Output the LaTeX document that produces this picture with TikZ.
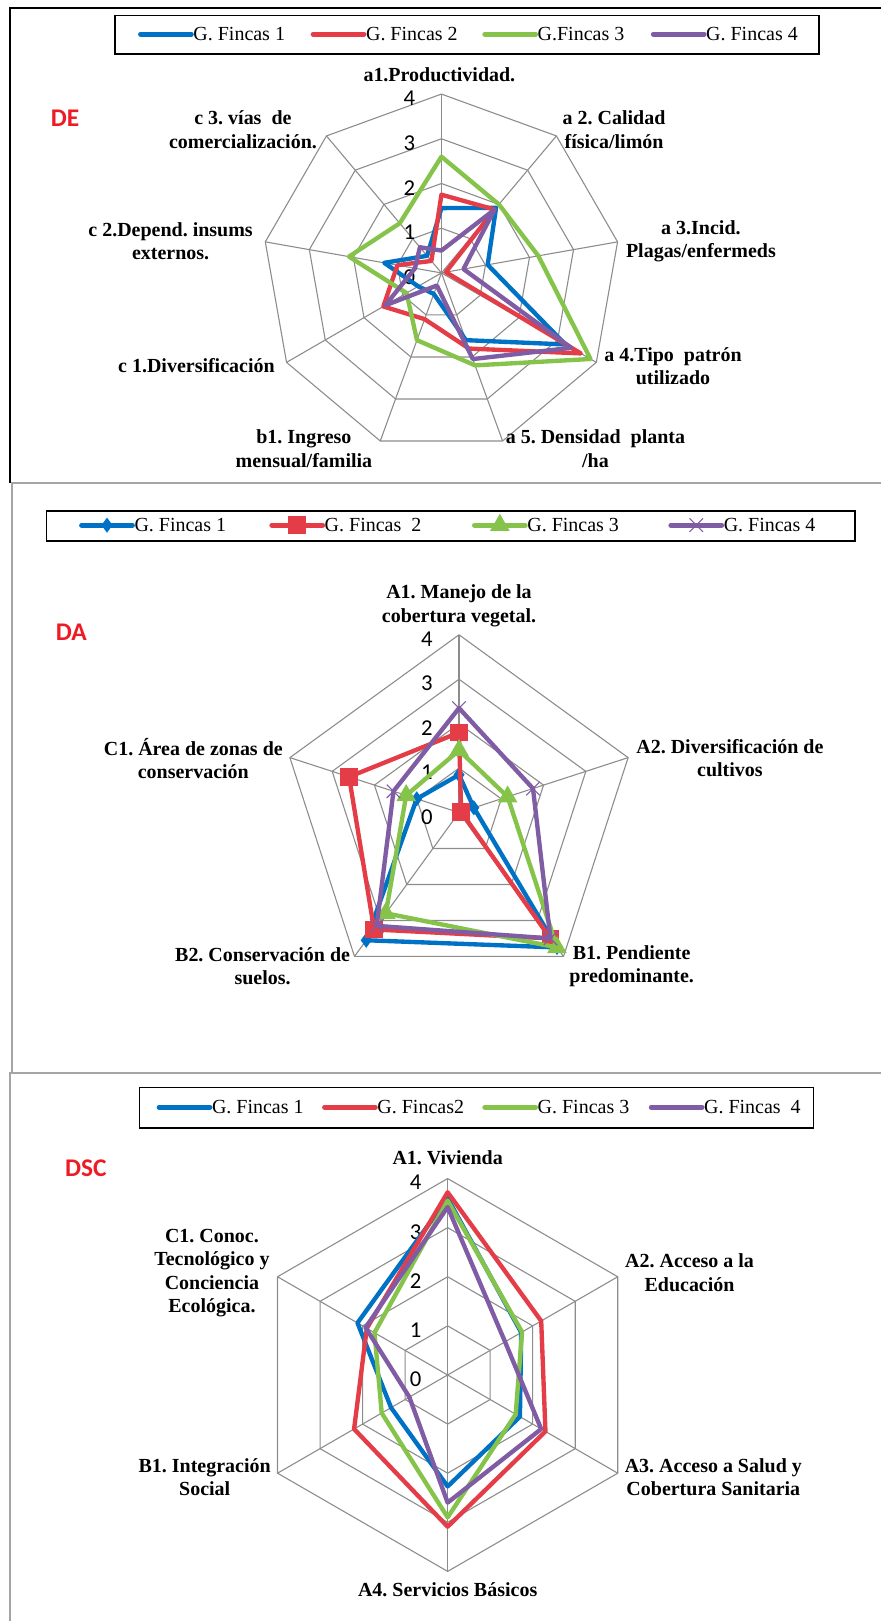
\documentclass[tikz,border=0pt]{standalone}
\usepackage{fontspec}
\setmainfont{Liberation Serif}
\newfontfamily\calibriFont{Carlito}
\usetikzlibrary{calc,shapes.geometric,shapes.misc}
\definecolor{gridColor}{RGB}{140,140,140}
\definecolor{frameGray}{RGB}{165,165,165}
\definecolor{fincaBlue}{RGB}{0,114,198}
\definecolor{fincaRed}{RGB}{228,61,72}
\definecolor{fincaGreen}{RGB}{134,195,74}
\definecolor{fincaPurple}{RGB}{128,92,164}
\definecolor{tagRed}{RGB}{237,28,36}
\tikzstyle{sheet} = [x = 0.02cm, y = -0.02cm]
\tikzstyle{gridLine} = [color=gridColor, line width=0.6pt]
\tikzstyle{seriesLine} = [line width=2.4pt, line join=round]
\tikzstyle{legendLine} = [line width=2.8pt, line cap=round]
\tikzstyle{legendBox} = [draw=black, line width=0.9pt]
\tikzstyle{legendText} = [font=\fontsize{11}{13}\selectfont, anchor=west, inner sep=1pt]
\tikzstyle{axisText} = [font=\bfseries\fontsize{11}{12.8}\selectfont, align=center, inner sep=0pt]
\tikzstyle{tickText} = [font=\calibriFont\fontsize{12.5}{14}\selectfont, inner sep=0pt]
\tikzstyle{tagText} = [font=\calibriFont\bfseries\fontsize{14}{16}\selectfont, color=tagRed, inner sep=0pt]
\tikzstyle{markBlue} = [diamond, fill=fincaBlue, inner sep=0pt, minimum width=0.22cm, minimum height=0.3cm]
\tikzstyle{markRed} = [rectangle, fill=fincaRed, inner sep=0pt, minimum size=0.34cm]
\tikzstyle{markGreen} = [regular polygon, regular polygon sides=3, fill=fincaGreen, inner sep=0pt, minimum size=0.44cm]
\tikzstyle{markPurple} = [cross out, draw=fincaPurple, line width=0.6pt, inner sep=0pt, minimum size=0.24cm]
\newcommand{\radarGrid}[3]{
  \foreach \level in {1,...,4} {
    \draw [gridLine] ($(#1) + (-90:\level*#3)$) \foreach \axis in {1,...,#2} { -- ($(#1) + ({-90 + 360/#2*\axis}:\level*#3)$) };
  }
  \foreach \axis in {1,...,#2} {
    \draw [gridLine] (#1) -- ($(#1) + ({-90 + 360/#2*\axis}:4*#3)$);
  }
  \foreach \level in {0,...,4} {
    \node [tickText] (#1Tick\level) at ($(#1) + (-31, 4 - \level*#3)$) {\level};
  }
}
\newcommand{\radarSeries}[5]{
  \foreach \value [count=\axis from 0] in {#5} {
    \coordinate (#1Point\axis) at ($(#1) + ({-90 + 360/#2*\axis}:\value*#3)$);
  }
  \pgfmathtruncatemacro{\lastAxis}{#2 - 1}
  \draw [seriesLine, #4] (#1Point0) \foreach \axis in {1,...,\lastAxis} { -- (#1Point\axis) } -- cycle;
}
\newcommand{\radarMarks}[3]{
  \foreach \axis in {0,...,#2} {
    \node [#3] (#1Mark\axis) at (#1Point\axis) {};
  }
}
\newcommand{\legendEntry}[5]{
  \draw [legendLine, color=#4] (#2,#3) -- +(49,0) coordinate (#1End);
  \node [legendText] (#1) at (#1End) {#5};
}
\newcommand{\legendEntryMark}[6]{
  \legendEntry{#1}{#2}{#3}{#4}{#6}
  \node [#5] (#1Mark) at (#2 + 24.5, #3) {};
}
\frenchspacing

\begin{document}
\begin{tikzpicture}[sheet]
  \useasboundingbox (0,0) rectangle (852,1568);
  \draw [line width=1.1pt] (852,7.7) -- (9.7,7.7) -- (9.7,467);
  \draw [color=frameGray, line width=1.1pt] (852,467) -- (11.6,467) -- (11.6,1038);
  \draw [color=frameGray, line width=1.1pt] (852,1038) -- (9.7,1038) -- (9.7,1568);

  \draw [legendBox] (111,15) rectangle (792,52);
  \legendEntry{deLegendA}{136}{33}{fincaBlue}{G. Fincas 1}
  \legendEntry{deLegendB}{303}{33}{fincaRed}{G. Fincas 2}
  \legendEntry{deLegendC}{469}{33}{fincaGreen}{G.Fincas 3}
  \legendEntry{deLegendD}{632}{33}{fincaPurple}{G. Fincas 4}
  \node [tagText] (deTag) at (63,114) {DE};
  \coordinate (deCenter) at (427,264);
  \radarGrid{deCenter}{9}{43.25}
  \radarSeries{deCenter}{9}{43.25}{fincaBlue}{1.45,1.9,1.05,3.2,1.6,0.5,0.6,1.3,0.5}
  \radarSeries{deCenter}{9}{43.25}{fincaRed}{1.75,1.85,0.1,3.6,1.8,1.1,1.5,1.0,0.35}
  \radarSeries{deCenter}{9}{43.25}{fincaGreen}{2.6,2.0,2.2,3.85,2.2,1.6,0.9,2.1,1.45}
  \radarSeries{deCenter}{9}{43.25}{fincaPurple}{0.5,1.85,0.5,3.35,2.05,0.3,1.45,0.6,0.75}
  \node [axisText] (deAxisA1) at (425,72) {a1.Productividad.};
  \node [axisText] (deAxisA2) at (594,125.5) {a 2. Calidad\\física/limón};
  \node [axisText] (deAxisA3) at (678,233.5) {a 3.Incid.\\Plagas/enfermeds};
  \node [axisText] (deAxisA4) at (651,354) {a 4.Tipo\ \ patrón\\utilizado};
  \node [axisText] (deAxisA5) at (576,434) {a 5. Densidad\ \ planta\\/ha};
  \node [axisText] (deAxisB1) at (294,434) {b1. Ingreso\\mensual/familia};
  \node [axisText] (deAxisC1) at (190,354) {c 1.Diversificación};
  \node [axisText] (deAxisC2) at (165,233.5) {c 2.Depend. insums\\externos.};
  \node [axisText] (deAxisC3) at (235,125.5) {c 3. vías\ \ de\\comercialización.};

  \draw [legendBox] (45,494) rectangle (827,523);
  \legendEntryMark{daLegendA}{79}{508}{fincaBlue}{markBlue}{G. Fincas 1}
  \legendEntryMark{daLegendB}{263}{508}{fincaRed}{markRed}{G. Fincas\ \ 2}
  \legendEntryMark{daLegendC}{459}{508}{fincaGreen}{markGreen}{G. Fincas 3}
  \legendEntryMark{daLegendD}{649}{508}{fincaPurple}{markPurple}{G. Fincas 4}
  \node [tagText] (daTag) at (69,612) {DA};
  \coordinate (daCenter) at (444,786);
  \radarGrid{daCenter}{5}{43}
  \radarSeries{daCenter}{5}{43}{fincaBlue}{0.85,0.35,3.75,3.55,1.0}
  \radarMarks{daCenter}{4}{markBlue}
  \radarSeries{daCenter}{5}{43}{fincaRed}{1.8,0.05,3.5,3.25,2.6}
  \radarMarks{daCenter}{4}{markRed}
  \radarSeries{daCenter}{5}{43}{fincaGreen}{1.4,1.15,3.75,2.8,1.25}
  \radarMarks{daCenter}{4}{markGreen}
  \radarSeries{daCenter}{5}{43}{fincaPurple}{2.35,1.75,3.5,3.15,1.55}
  \radarMarks{daCenter}{4}{markPurple}
  \node [axisText] (daAxisA1) at (444,586) {A1. Manejo de la\\cobertura vegetal.};
  \node [axisText] (daAxisA2) at (706,733.5) {A2. Diversificación de\\cultivos};
  \node [axisText] (daAxisB1) at (611,934.5) {B1. Pendiente\\predominante.};
  \node [axisText] (daAxisB2) at (254,934.5) {B2. Conservación de\\suelos.};
  \node [axisText] (daAxisC1) at (187,733.5) {C1. Área de zonas de\\conservación};

  \draw [legendBox] (135,1052) rectangle (787,1091);
  \legendEntry{dscLegendA}{154}{1071}{fincaBlue}{G. Fincas 1}
  \legendEntry{dscLegendB}{314}{1071}{fincaRed}{G. Fincas2}
  \legendEntry{dscLegendC}{469}{1071}{fincaGreen}{G. Fincas 3}
  \legendEntry{dscLegendD}{630}{1071}{fincaPurple}{G. Fincas\ \ 4}
  \node [tagText] (dscTag) at (83,1130) {DSC};
  \coordinate (dscCenter) at (433,1330);
  \radarGrid{dscCenter}{6}{47.5}
  \radarSeries{dscCenter}{6}{47.5}{fincaBlue}{3.6,1.73,1.7,2.27,1.33,2.12}
  \radarSeries{dscCenter}{6}{47.5}{fincaRed}{3.72,2.2,2.3,3.09,2.2,1.9}
  \radarSeries{dscCenter}{6}{47.5}{fincaGreen}{3.55,1.75,1.6,2.9,1.55,1.72}
  \radarSeries{dscCenter}{6}{47.5}{fincaPurple}{3.42,1.35,2.2,2.6,0.9,1.93}
  \node [axisText] (dscAxisA1) at (433,1120) {A1. Vivienda};
  \node [axisText] (dscAxisA2) at (667,1231) {A2. Acceso a la\\Educación};
  \node [axisText] (dscAxisA3) at (690,1429) {A3. Acceso a Salud y\\Cobertura Sanitaria};
  \node [axisText] (dscAxisA4) at (433,1538) {A4. Servicios Básicos};
  \node [axisText] (dscAxisB1) at (198,1429) {B1. Integración\\Social};
  \node [axisText] (dscAxisC1) at (205,1231.5) {C1. Conoc.\\Tecnológico y\\Conciencia\\Ecológica.};
\end{tikzpicture}
\end{document}
